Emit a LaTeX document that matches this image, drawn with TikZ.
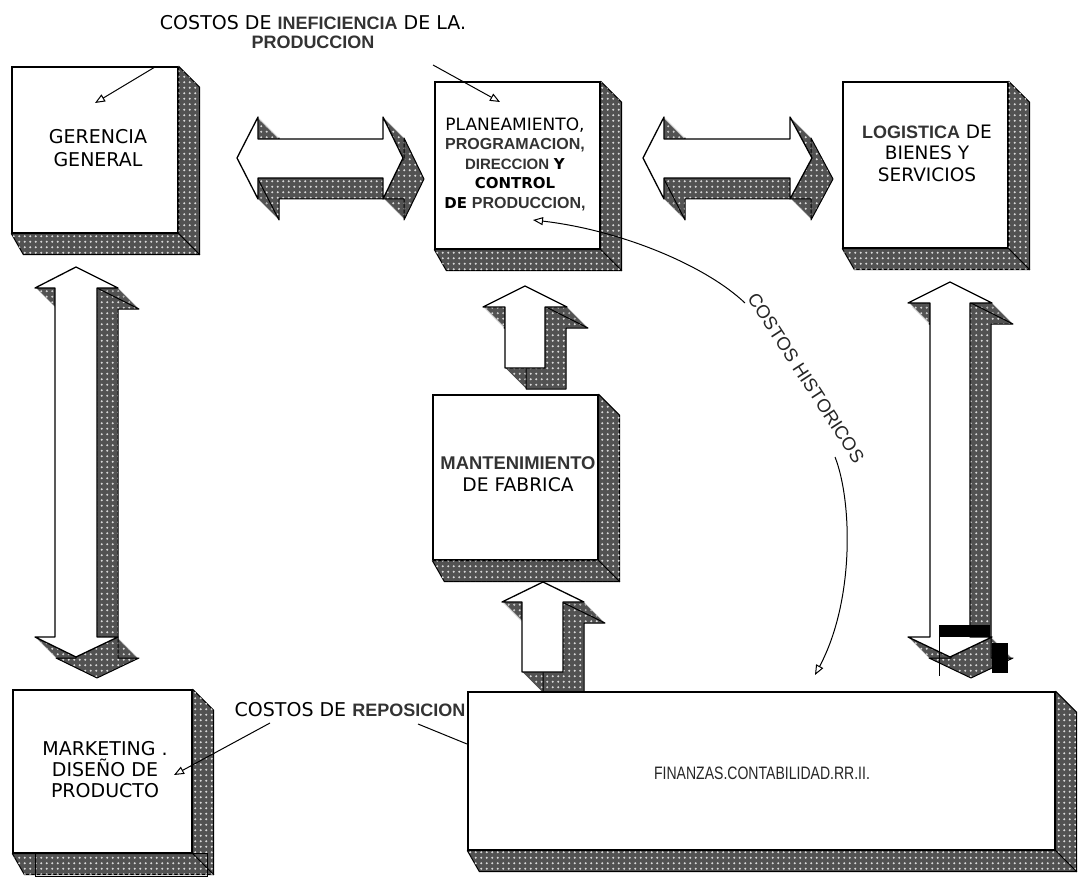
\documentclass[tikz,border=0pt]{standalone}
\usepackage{fontspec}
\setmainfont{DejaVu Sans}
\newfontfamily\scanfont{Liberation Sans}
\newfontfamily\narrowfont{Liberation Sans}[FakeStretch=0.78]
\usetikzlibrary{arrows.meta,patterns,calc}

% dotted texture for the shaded faces
\pgfdeclarepatternformonly{dotgrid}{\pgfpoint{-1pt}{-1pt}}{\pgfpoint{6pt}{6pt}}{\pgfpoint{5.5pt}{5.5pt}}%
  {\pgfpathcircle{\pgfpoint{2.75pt}{2.75pt}}{1.05pt}\pgfusepath{fill}}

% bold grotesque words
\newcommand\scw[2][16]{{\fontsize{#1}{19.5}\selectfont\scanfont\bfseries\color{black!80}#2}}

\tikzset{
  face/.style={fill=black!68, postaction={pattern=dotgrid, pattern color=white!85!black}},
  front/.style={fill=white, draw=black, line width=1.3pt, line join=round},
  backline/.style={draw=black, line width=1pt, line join=round},
  box/.style={draw=black, fill=white, line width=1.3pt, inner sep=0pt},
  lbl/.style={align=center, inner sep=0pt, text=black, font=\fontsize{19}{23}\selectfont},
  conn/.style={draw=black, line width=1pt, -{Triangle[open, length=10pt, width=8pt]}},
  plain/.style={draw=black, line width=1pt}
}

% extruded solid: shaded sweep towards the lower right, white front face
\newcommand\solidshape[1]{%
  \foreach \t in {1,...,21}{\fill[face, shift={(\t,\t)}] #1;}
  \draw[backline, shift={(21,21)}] #1;
  \filldraw[front] #1;
}

% shaded right and bottom faces of a box node
\newcommand\boxsides[1]{%
  \filldraw[face, draw=black, line width=1pt, line join=round]
    (#1.north east) -- ++(21,21) -- ($(#1.south east)+(21,21)$) -- (#1.south east) -- cycle;
  \filldraw[face, draw=black, line width=1pt, line join=round]
    (#1.south west) -- (#1.south east) -- ($(#1.south east)+(21,21)$) -- ($(#1.south west)+(12,21)$) -- cycle;
}

% front outlines of the block arrows
\def\pathHA{(237,158) -- (258,117) -- (258,139) -- (383,139) -- (383,117) -- (403,158) -- (383,199) -- (383,178) -- (258,178) -- (258,199) -- cycle}
\def\pathHB{(643,158) -- (664,117) -- (664,139) -- (790,139) -- (790,117) -- (812,158) -- (790,199) -- (790,178) -- (664,178) -- (664,199) -- cycle}
\def\pathVA{(76,267) -- (118,288) -- (97,288) -- (97,637) -- (118,637) -- (76,657) -- (35,637) -- (55,637) -- (55,288) -- (35,288) -- cycle}
\def\pathVB{(950,282) -- (992,303) -- (970,303) -- (970,637) -- (992,637) -- (950,657) -- (908,637) -- (930,637) -- (930,303) -- (908,303) -- cycle}
\def\pathUA{(525,286) -- (567,307) -- (545,307) -- (545,368) -- (505,368) -- (505,307) -- (483,307) -- cycle}
\def\pathUB{(543,582) -- (584,602) -- (563,602) -- (563,672) -- (522,672) -- (522,602) -- (502,602) -- cycle}

\begin{document}
\begin{tikzpicture}[x=1pt, y=-1pt]
\useasboundingbox (0,0) rectangle (1084,877);
\fill[white] (0,0) rectangle (1084,877);

% block arrows
\solidshape{\pathHA}
\solidshape{\pathHB}
\solidshape{\pathVA}
\solidshape{\pathVB}
\solidshape{\pathUA}
\solidshape{\pathUB}

% boxes
\node[box, minimum width=166pt, minimum height=166pt] (ger) at (95,150) {};
\boxsides{ger}
\node[box, minimum width=165pt, minimum height=167pt] (pla) at (517.5,165.5) {};
\boxsides{pla}
\node[box, minimum width=165pt, minimum height=166pt] (log) at (925.5,165) {};
\boxsides{log}
\node[box, minimum width=165pt, minimum height=165pt] (man) at (515.5,477.5) {};
\boxsides{man}
\node[box, minimum width=179pt, minimum height=163pt] (mar) at (102.5,771.5) {};
\boxsides{mar}
\draw[line width=0.8pt] (35,853) rectangle (207,876);
\node[box, minimum width=587pt, minimum height=158pt] (fin) at (761.5,771) {};
\boxsides{fin}

% dark marks over the lower end of the right arrow
\fill[black] (939,625) rectangle (990,637);
\draw[line width=1pt] (939,637) -- (939,676);
\fill[black] (992,643) rectangle (1008,673);

% box texts
\node[lbl] (gertxt) at (98,148) {GERENCIA\\GENERAL};
\node[lbl, font=\fontsize{15}{19.5}\selectfont] (platxt) at (515,164)
  {{\fontsize{17}{19.5}\selectfont PLANEAMIENTO,}\\
   \scw{PROGRAMACION,}\\
   \scw[15]{DIRECCION} \textbf{Y}\\
   \textbf{CONTROL}\\
   \textbf{DE} \scw{PRODUCCION,}};
\node[lbl, font=\fontsize{18.5}{21.5}\selectfont] (logtxt) at (927,153)
  {\scw[18]{LOGISTICA} DE\\BIENES Y\\SERVICIOS};
\node[lbl, font=\fontsize{18.7}{22.5}\selectfont] (mantxt) at (518,474)
  {\scw[18.4]{MANTENIMIENTO}\\DE FABRICA};
\node[lbl, font=\fontsize{19}{21}\selectfont] (martxt) at (105,770)
  {MARKETING .\\DISEÑO DE\\PRODUCTO};
\node[lbl, font=\narrowfont\fontsize{18}{20}\selectfont, text=black!85] (fintxt) at (762,773)
  {FINANZAS.CONTABILIDAD.RR.II.};

% cost labels
\node[lbl, font=\fontsize{19}{19}\selectfont] (toptxt) at (313,32)
  {COSTOS DE \scw[18]{INEFICIENCIA} DE LA.\\ \scw[18]{PRODUCCION}};
\node[lbl] (reptxt) at (350,710) {COSTOS DE \scw[18]{REPOSICION}};
\node[inner sep=0pt, rotate=-57, font=\scanfont\fontsize{18.5}{20}\selectfont, text=black!85]
  (histtxt) at (806,378) {COSTOS HISTORICOS};

% connector end points
\coordinate (t1s) at (155,67);
\coordinate (t1e) at (95,103);
\coordinate (t2s) at (433,65);
\coordinate (t2e) at (500,102);
\coordinate (h1s) at (745,303);
\coordinate (h1e) at (533,220);
\coordinate (h2s) at (835,457);
\coordinate (h2e) at (815,675);
\coordinate (r1s) at (270,723);
\coordinate (r1e) at (174,775);
\coordinate (r2s) at (418,724);
\coordinate (r2e) at (467,744);

% connectors
\draw[conn] (t1s) -- (t1e);
\draw[conn] (t2s) -- (t2e);
\draw[conn] (h1s) .. controls (705,265) and (620,230) .. (h1e);
\draw[conn] (h2s) .. controls (852,500) and (855,600) .. (h2e);
\draw[conn] (r1s) -- (r1e);
\draw[plain] (r2s) -- (r2e);
\end{tikzpicture}
\end{document}
